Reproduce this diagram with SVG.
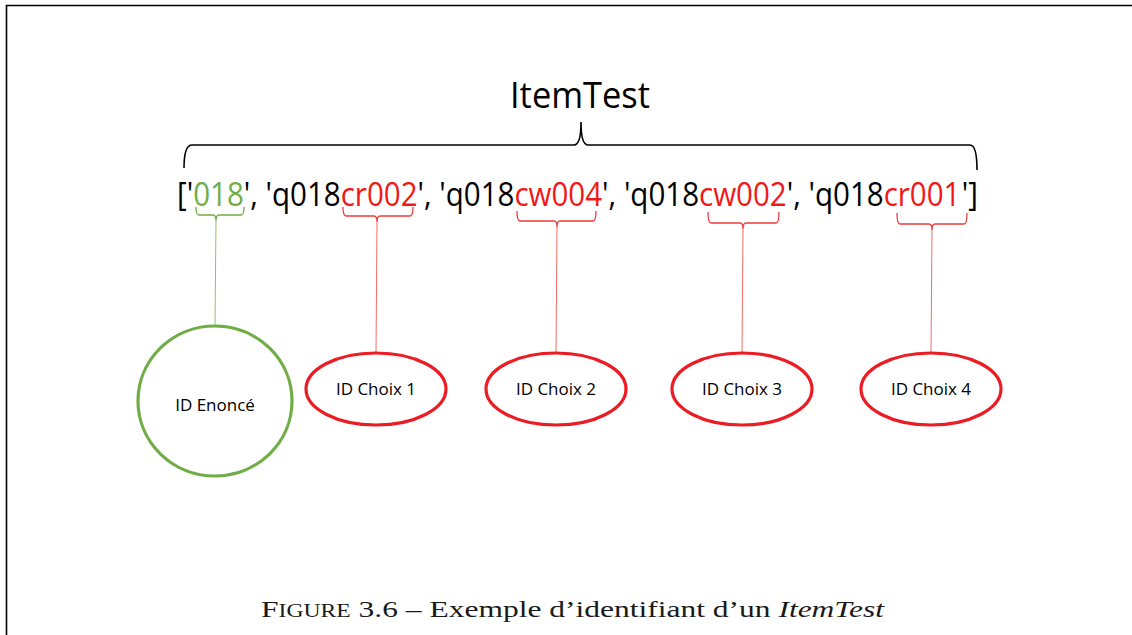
<svg xmlns="http://www.w3.org/2000/svg" width="1132" height="635" viewBox="0 0 1132 635">
<style>
.s{font-family:"Open Sans","Liberation Sans",sans-serif;font-size:32px;fill:#000}
.g{fill:#70AD47}
.r{fill:#F01818}
.lbl{font-family:"Open Sans","Liberation Sans",sans-serif;font-size:17px;fill:#000;text-anchor:middle}
.br{fill:none;stroke-width:1.3}
.gl{stroke:#8DC26A;stroke-width:1}
.rl{stroke:#F56A6A;stroke-width:1}
.gn{fill:#fff;stroke:#70AD47;stroke-width:3.2}
.rn{fill:#fff;stroke:#EB1C24;stroke-width:3.2}
.cap{font-family:"Liberation Serif","DejaVu Serif",serif;font-size:24px;fill:#1a1a1a}
</style>
<rect width="1132" height="635" fill="#fff"/>
<path d="M6.5,635 V5.5 H1132" fill="none" stroke="#000" stroke-width="1.6"/>
<g id="title">
<text x="580" y="108" font-family="Open Sans, Liberation Sans, sans-serif" font-size="36" text-anchor="middle" textLength="140" lengthAdjust="spacingAndGlyphs">ItemTest</text>
<path d="M184,168 Q184,145 192,145 H574 Q581,145 581,122 Q581,145 588,145 H970 Q977,145 977,170" fill="none" stroke="#000" stroke-width="1.6"/>
</g>
<g id="string">
<text class="s" x="177" y="206" textLength="801" lengthAdjust="spacingAndGlyphs">['<tspan class="g">018</tspan>', 'q018<tspan class="r">cr002</tspan>', 'q018<tspan class="r">cw004</tspan>', 'q018<tspan class="r">cw002</tspan>', 'q018<tspan class="r">cr001</tspan><tspan dx="1.5">']</tspan></text>
</g>
<g id="connectors">
<path class="br" stroke="#70AD47" d="M196,207 Q196,215 199,215 H213 Q216,215 216,221 Q216,215 219,215 H241 Q244,215 244,207"/>
<line class="gl" x1="216" y1="221" x2="215" y2="325"/>
<path class="br" stroke="#F03A3A" d="M343,207 Q343,216 346,216 H374 Q377,216 377,222 Q377,216 380,216 H410 Q413,216 413,207"/>
<line class="rl" x1="377" y1="222" x2="376" y2="353"/>
<path class="br" stroke="#F03A3A" d="M517,211 Q517,221 520,221 H554 Q557,221 557,227 Q557,221 560,221 H593 Q596,221 596,211"/>
<line class="rl" x1="557" y1="227" x2="556" y2="353"/>
<path class="br" stroke="#F03A3A" d="M708,212 Q708,223 711,223 H740 Q743,223 743,229 Q743,223 746,223 H776 Q779,223 779,212"/>
<line class="rl" x1="743" y1="229" x2="742" y2="353"/>
<path class="br" stroke="#F03A3A" d="M897,213 Q897,224 900,224 H929 Q932,224 932,230 Q932,224 935,224 H964 Q967,224 967,213"/>
<line class="rl" x1="932" y1="230" x2="931" y2="353"/>
</g>
<g id="enonce">
<ellipse class="gn" cx="215" cy="401" rx="77" ry="75"/>
<text class="lbl" x="215" y="411">ID Enoncé</text>
</g>
<g id="choix1">
<ellipse class="rn" cx="376" cy="389" rx="70" ry="36"/>
<text class="lbl" x="376" y="395">ID Choix 1</text>
</g>
<g id="choix2">
<ellipse class="rn" cx="556" cy="389" rx="70" ry="36"/>
<text class="lbl" x="556" y="395">ID Choix 2</text>
</g>
<g id="choix3">
<ellipse class="rn" cx="742" cy="389" rx="70" ry="36"/>
<text class="lbl" x="742" y="395">ID Choix 3</text>
</g>
<g id="choix4">
<ellipse class="rn" cx="931" cy="389" rx="70" ry="36"/>
<text class="lbl" x="931" y="395">ID Choix 4</text>
</g>
<g id="caption">
<text class="cap" x="261" y="617" textLength="623" lengthAdjust="spacingAndGlyphs">F<tspan font-size="18">IGURE</tspan> 3.6 – Exemple d’identifiant d’un <tspan font-style="italic">ItemTest</tspan></text>
</g>
</svg>
